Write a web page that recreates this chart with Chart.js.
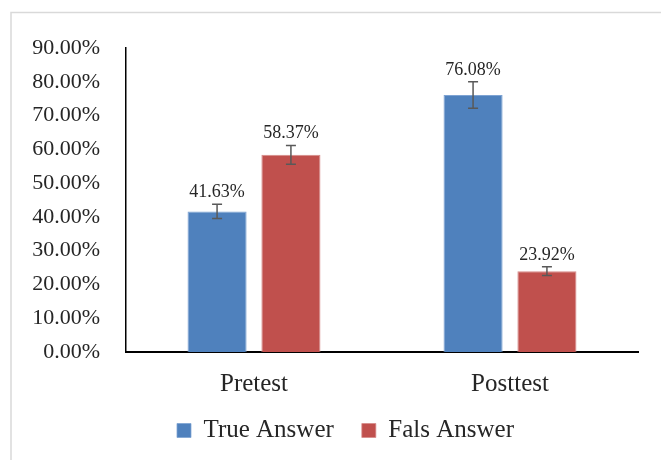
<!DOCTYPE html>
<html>
<head>
<meta charset="utf-8">
<script src="https://cdn.jsdelivr.net/npm/chart.js@4.4.1/dist/chart.umd.min.js"></script>
<style>
  html, body { margin: 0; padding: 0; background: #fff; }
  #wrap { position: relative; width: 661px; height: 460px; }
</style>
</head>
<body>
<div id="wrap"><canvas id="answerChart" width="661" height="460"></canvas></div>
<script>
// data
var categories = ['Pretest', 'Posttest'];
var trueAnswer = [41.63, 76.08];
var falsAnswer = [58.37, 23.92];
var trueError = [2.1, 3.9];
var falsError = [2.8, 1.3];
var yTicks = [0, 10, 20, 30, 40, 50, 60, 70, 80, 90];

var serif = "'Liberation Serif', 'Times New Roman', serif";

// light frame round the chart (top and left edges only show)
var framePlugin = {
    id: 'frame',
    beforeDraw: function (chart) {
        var c = chart.ctx;
        c.save();
        c.strokeStyle = '#D9D9D9';
        c.lineWidth = 1.5;
        c.beginPath();
        c.moveTo(11, 470);
        c.lineTo(11, 12.5);
        c.lineTo(670, 12.5);
        c.stroke();
        c.restore();
    }
};

// nudge the legend so it sits where the original one is
var legendPlacePlugin = {
    id: 'legendPlace',
    afterLayout: function (chart) {
        chart.legend.left = 53;
        chart.legend.top = 390;
    }
};

// error bars and value labels on top of each bar
var errorLabelPlugin = {
    id: 'errorLabels',
    afterDatasetsDraw: function (chart) {
        var c = chart.ctx;
        var y = chart.scales.y;
        var errs = [trueError, falsError];
        c.save();
        chart.data.datasets.forEach(function (ds, i) {
            var meta = chart.getDatasetMeta(i);
            meta.data.forEach(function (bar, j) {
                var v = ds.data[j];
                var e = errs[i][j];
                var top = y.getPixelForValue(v + e);
                var bot = y.getPixelForValue(v - e);
                c.strokeStyle = '#595959';
                c.lineWidth = 1.5;
                c.beginPath();
                c.moveTo(bar.x, top); c.lineTo(bar.x, bot);
                c.moveTo(bar.x - 5, top); c.lineTo(bar.x + 5, top);
                c.moveTo(bar.x - 5, bot); c.lineTo(bar.x + 5, bot);
                c.stroke();
                c.fillStyle = '#262626';
                c.font = '18px ' + serif;
                c.textAlign = 'center';
                c.textBaseline = 'bottom';
                c.fillText(v.toFixed(2) + '%', bar.x, top - 3);
            });
        });
        c.restore();
    }
};

var ctx = document.getElementById('answerChart').getContext('2d');
var answerChart = new Chart(ctx, {
    type: 'bar',
    data: {
        labels: categories,
        datasets: [
            {
                label: 'True Answer',
                data: trueAnswer,
                backgroundColor: '#4F81BD',
                borderColor: '#7EA3D3',
                borderWidth: { left: 1, right: 1, top: 1, bottom: 0 },
                categoryPercentage: 0.577,
                barPercentage: 0.8
            },
            {
                label: 'Fals Answer',
                data: falsAnswer,
                backgroundColor: '#C0504D',
                borderColor: '#D68A88',
                borderWidth: { left: 1, right: 1, top: 1, bottom: 0 },
                categoryPercentage: 0.577,
                barPercentage: 0.8
            }
        ]
    },
    options: {
        responsive: false,
        animation: false,
        layout: { padding: { left: 0, right: 23, top: 48, bottom: 0 } },
        plugins: {
            tooltip: { enabled: false },
            legend: {
                position: 'bottom',
                labels: {
                    boxWidth: 14,
                    boxHeight: 14,
                    padding: 28,
                    color: '#262626',
                    font: { family: serif, size: 25 }
                }
            }
        },
        scales: {
            x: {
                grid: { display: false, drawTicks: false },
                border: { color: '#000', width: 2 },
                ticks: { color: '#262626', padding: 17, font: { family: serif, size: 25 } },
                afterFit: function (s) { s.height = 45; }
            },
            y: {
                min: 0,
                max: 90,
                afterBuildTicks: function (s) {
                    s.ticks = yTicks.map(function (v) { return { value: v }; });
                },
                grid: { display: false, drawTicks: false },
                border: { color: '#000', width: 1.5 },
                ticks: {
                    color: '#262626',
                    padding: 26,
                    font: { family: serif, size: 22 },
                    callback: function (v) { return v.toFixed(2) + '%'; }
                },
                afterFit: function (s) { s.width = 126; }
            }
        }
    },
    plugins: [framePlugin, legendPlacePlugin, errorLabelPlugin]
});
</script>
</body>
</html>
